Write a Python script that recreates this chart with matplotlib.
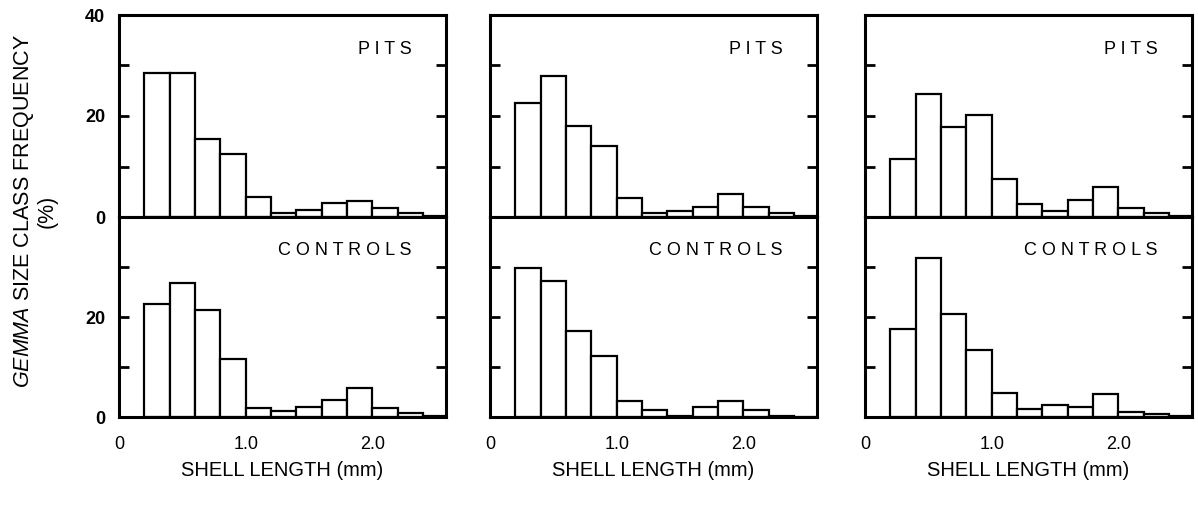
import matplotlib
matplotlib.use("Agg")
import matplotlib.pyplot as plt

plt.rcParams['font.family'] = ['Liberation Sans', 'DejaVu Sans']
plt.rcParams['mathtext.fontset'] = 'custom'
plt.rcParams['mathtext.rm'] = 'Liberation Sans'
plt.rcParams['mathtext.it'] = 'Liberation Sans:italic'

# size classes (left edge of each 0.2 mm bin)
bin_left = [0.2, 0.4, 0.6, 0.8, 1.0, 1.2, 1.4, 1.6, 1.8, 2.0, 2.2, 2.4]
bin_width = 0.2

# frequencies (%) per site
pits_1 = [28.5, 28.5, 15.5, 12.5, 4.0, 0.7, 1.4, 2.7, 3.1, 1.7, 0.7, 0.2]
controls_1 = [22.5, 26.9, 21.4, 11.6, 1.9, 1.2, 2.1, 3.5, 5.8, 1.8, 0.9, 0.2]
pits_2 = [22.5, 27.9, 18.1, 14.1, 3.8, 0.7, 1.2, 2.0, 4.6, 1.9, 0.7, 0.1]
controls_2 = [29.7, 27.2, 17.1, 12.3, 3.3, 1.4, 0.3, 2.1, 3.3, 1.5, 0.2, 0.1]
pits_3 = [11.4, 24.4, 17.9, 20.1, 7.6, 2.6, 1.2, 3.4, 6.0, 1.7, 0.7, 0.1]
controls_3 = [17.7, 31.8, 20.7, 13.4, 4.8, 1.6, 2.4, 2.0, 4.6, 1.1, 0.7, 0.2]

pits = [pits_1, pits_2, pits_3]
controls = [controls_1, controls_2, controls_3]

x_ticks = [0, 1.0, 2.0]
x_ticklabels = ["0", "1.0", "2.0"]
y_ticks = [0, 10, 20, 30, 40]

W, H = 1198, 505
fig = plt.figure(figsize=(W / 100, H / 100), dpi=100)

col_left = [119, 490, 865]
col_width = 327
top_y0, top_y1 = 15, 217
bot_y0, bot_y1 = 217, 417


def px_axes(left, y0, y1):
    return fig.add_axes([left / W, (H - y1) / H, col_width / W, (y1 - y0) / H])


def style(ax, labels, show_y):
    ax.set_xlim(0, 2.58)
    ax.set_ylim(0, 40)
    for s in ax.spines.values():
        s.set_linewidth(2.2)
    ax.set_yticks(y_ticks)
    ax.tick_params(axis='y', direction='in', length=7, width=2,
                   left=True, right=True, pad=10,
                   labelsize=13, labelleft=show_y)
    ax.set_yticklabels(labels, fontweight='bold')
    ax.set_xticks([])


for i in range(3):
    ax_t = px_axes(col_left[i], top_y0, top_y1)
    ax_b = px_axes(col_left[i], bot_y0, bot_y1)

    ax_t.bar(bin_left, pits[i], width=bin_width, align='edge',
             color='white', edgecolor='black', linewidth=1.6)
    ax_b.bar(bin_left, controls[i], width=bin_width, align='edge',
             color='white', edgecolor='black', linewidth=1.6)

    style(ax_t, ["0", "", "20", "", "40"], i == 0)
    style(ax_b, ["", "", "20", "", ""], i == 0)

    ax_b.set_xticks(x_ticks)
    ax_b.set_xticklabels(x_ticklabels)
    ax_b.tick_params(axis='x', length=0, pad=14, labelsize=13)
    if i == 0:
        ax_b.set_yticks(y_ticks)
        ax_b.set_yticklabels(["0", "", "20", "", ""], fontweight='bold')

    ax_t.text(0.895, 0.83, "P I T S", transform=ax_t.transAxes,
              ha='right', va='center', fontsize=13)
    ax_b.text(0.895, 0.83, "C O N T R O L S", transform=ax_b.transAxes,
              ha='right', va='center', fontsize=13)

    cx = (col_left[i] + col_width / 2) / W
    fig.text(cx, 1 - 471 / H, "SHELL LENGTH (mm)", ha='center', va='center',
             fontsize=14.5)

fig.text(35 / W, 1 - 211 / H,
         "$\\mathit{GEMMA}$ SIZE CLASS FREQUENCY\n(%)",
         rotation=90, ha='center', va='center', multialignment='center',
         fontsize=15.5, linespacing=1.05)

fig.savefig("out.png", dpi=100)
